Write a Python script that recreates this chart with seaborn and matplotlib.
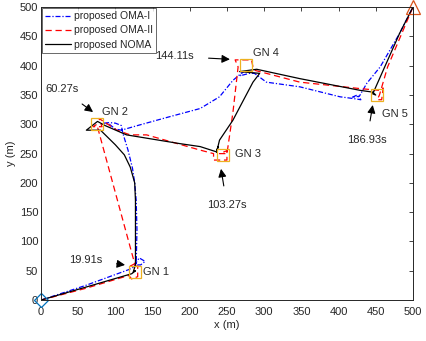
import numpy as np
import pandas as pd
import seaborn as sns
import matplotlib
matplotlib.use("Agg")
import matplotlib.pyplot as plt

# trajectories (m)
oma1_x = [0, 60, 118, 124, 132, 140, 134, 128, 129, 128, 126, 123, 117, 110, 108, 100, 92, 85, 92,
          100, 108, 130, 170, 214, 240, 258, 272, 268, 280, 287, 303, 348, 402, 420, 430, 425, 418,
          428, 438, 456, 482, 500]
oma1_y = [0, 25, 52, 56, 72, 66, 60, 60, 120, 170, 200, 225, 256, 285, 298, 302, 303, 302, 300,
          292, 290, 298, 312, 327, 347, 375, 390, 383, 387, 387, 372, 364, 347, 344, 342, 350, 346,
          348, 370, 398, 455, 500]

oma2_x = [0, 60, 118, 122, 130, 130, 120, 126, 75, 70, 82, 78, 102, 120, 142, 214, 232, 232, 250,
          250, 240, 250, 258, 265, 261, 283, 285, 288, 348, 429, 455, 460, 458, 452, 455, 466, 500]
oma2_y = [0, 20, 42, 36, 40, 58, 58, 62, 300, 296, 296, 310, 290, 282, 282, 256, 250, 239, 239,
          255, 250, 250, 320, 398, 410, 410, 398, 392, 372, 361, 358, 362, 342, 342, 350, 398, 500]

noma_x = [0, 60, 122, 127, 124, 127, 127, 127, 126, 120, 112, 100, 88, 80, 61, 76, 86, 115, 187,
          214, 236, 238, 236, 240, 258, 270, 285, 294, 267, 290, 348, 429, 446, 450, 446, 482, 500]
noma_y = [0, 22, 45, 50, 48, 60, 120, 170, 200, 227, 248, 265, 280, 290, 290, 305, 298, 282, 267,
          262, 253, 262, 252, 273, 307, 336, 372, 387, 390, 394, 378, 358, 355, 350, 352, 455, 500]

gn_x = [127, 75, 245, 275, 452]
gn_y = [48, 300, 248, 402, 350]
gn_labels = ["GN 1", "GN 2", "GN 3", "GN 4", "GN 5"]
gn_label_pos = [(137, 48), (82, 321), (261, 250), (285, 421), (459, 318)]

times = ["19.91s", "60.27s", "103.27s", "144.11s", "186.93s"]
time_text_pos = [(60, 69), (28, 360), (250, 162), (180, 416), (438, 273)]
time_arrow_tip = [(113, 60), (70, 321), (242, 224), (254, 411), (446, 333)]

sns.set_style("white")
plt.rcParams["font.family"] = ["Liberation Sans", "DejaVu Sans"]

fig = plt.figure(figsize=(4.27, 3.41), dpi=100)
ax = fig.add_axes([0.096, 0.12, 0.871, 0.859])

df1 = pd.DataFrame({"x": oma1_x, "y": oma1_y})
df2 = pd.DataFrame({"x": oma2_x, "y": oma2_y})
df3 = pd.DataFrame({"x": noma_x, "y": noma_y})

sns.lineplot(data=df1, x="x", y="y", sort=False, estimator=None, ax=ax, color="#0000FF",
             linestyle="-.", linewidth=0.9, label="proposed OMA-I")
sns.lineplot(data=df2, x="x", y="y", sort=False, estimator=None, ax=ax, color="#FF0000",
             linestyle="--", linewidth=0.9, label="proposed OMA-II")
sns.lineplot(data=df3, x="x", y="y", sort=False, estimator=None, ax=ax, color="black",
             linestyle="-", linewidth=0.9, label="proposed NOMA")
for line, dash in zip(ax.lines[:2], [(4, 1.5, 1, 1.5), (5, 3)]):
    line.set_dashes(dash)

ax.plot(gn_x, gn_y, linestyle="none", marker="s", markersize=9, markerfacecolor="none",
        markeredgecolor="#EDB120", markeredgewidth=0.9)
ax.plot([0], [0], linestyle="none", marker="D", markersize=7, markerfacecolor="none",
        markeredgecolor="#0072BD", markeredgewidth=0.9, clip_on=False)
ax.plot([500], [500], linestyle="none", marker="^", markersize=10, markerfacecolor="none",
        markeredgecolor="#D95319", markeredgewidth=0.9, clip_on=False)

for lab, (lx, ly) in zip(gn_labels, gn_label_pos):
    ax.text(lx, ly, lab, fontsize=8, va="center", ha="left", color="#262626")

for t, txt, tip in zip(times, time_text_pos, time_arrow_tip):
    ax.annotate(t, xy=tip, xytext=txt, fontsize=8, ha="center", va="center", color="#262626",
                arrowprops=dict(arrowstyle="-|>", color="black", lw=0.8, mutation_scale=12,
                                shrinkA=8, shrinkB=0))

ax.set_xlim(0, 500)
ax.set_ylim(0, 500)
ax.set_xticks(np.arange(0, 501, 50))
ax.set_yticks(np.arange(0, 501, 50))
ax.set_xlabel("x (m)", fontsize=8, labelpad=2, color="#262626")
ax.set_ylabel("y (m)", fontsize=8, labelpad=3, color="#262626")
ax.tick_params(direction="in", length=3, width=0.6, labelsize=8, colors="#262626",
               top=True, right=True, pad=2)
ax.tick_params(axis="x", pad=5)
for s in ax.spines.values():
    s.set_color("#262626")
    s.set_linewidth(0.7)

leg = ax.legend(loc="upper left", fontsize=7.5, frameon=True, fancybox=False, borderpad=0.3,
                labelspacing=0.4, handlelength=2.5, handletextpad=0.3, borderaxespad=0.1)
leg.get_frame().set_edgecolor("#262626")
leg.get_frame().set_linewidth(0.6)

fig.savefig("out.png", dpi=100)
